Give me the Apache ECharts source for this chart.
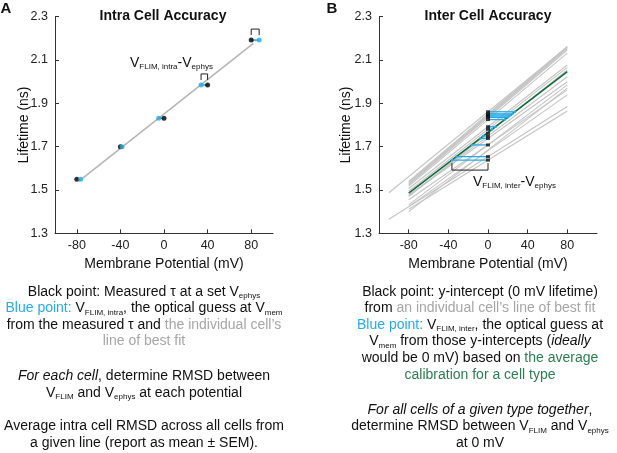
<!DOCTYPE html>
<html><head><meta charset="utf-8">
<script src="https://cdn.jsdelivr.net/npm/echarts@6/dist/echarts.min.js"></script>
<style>html,body{margin:0;padding:0;background:#fff}#c{width:617px;height:453px}</style>
</head><body><div id="c"></div>
<script>
// ---------- tick labels ----------
const xTicks = [-80, -40, 0, 40, 80];
const yTicks = [1.3, 1.5, 1.7, 1.9, 2.1, 2.3];

// ---------- Panel A: Intra cell accuracy ----------
const aVephys = [-80, -40, 0, 40, 80];
const aTau = [1.549, 1.700, 1.831, 1.985, 2.192];
const aVflim = [-76.5, -38.5, -4.9, 34.0, 87.3];
const aFitX = [-78, 82];
const aFitY = [1.541, 2.177];
const aBracketIdx = [3, 4];

// ---------- Panel B: Inter cell accuracy ----------
const bCellStartX = [-80, -80, -80, -80, -80, -100, -80, -80, -80, -80, -80, -80, -80, -80, -100, -80, -80];
const bCellStartY = [1.540, 1.535, 1.530, 1.524, 1.518, 1.487, 1.507, 1.494, 1.470, 1.475, 1.476, 1.431, 1.455, 1.423, 1.365, 1.411, 1.400];
const bCellEndX = [80, 80, 80, 80, 80, 80, 80, 80, 80, 80, 80, 80, 80, 80, 80, 80, 80];
const bCellEndY = [2.163, 2.158, 2.152, 2.146, 2.132, 2.160, 2.077, 2.066, 2.054, 2.023, 2.000, 1.985, 1.962, 1.939, 1.885, 1.865, 1.970];
const bCalX = [-80, 80];
const bCalY = [1.485, 2.046];
const bIntercepts = [1.861, 1.8515, 1.8465, 1.841, 1.835, 1.825, 1.792, 1.780, 1.762, 1.749, 1.738, 1.708, 1.654, 1.638];
const bVflim = [27.2, 24.5, 23.1, 21.5, 19.8, 17.0, 7.6, 4.1, -1.0, -4.7, -7.8, -16.4, -31.8, -36.4];

const F = '"Liberation Sans", Arial, Helvetica, sans-serif';
const BLUE = '#29abe2', GRAY_T = '#a6a6a6', GREEN_T = '#2d7d52', GREEN_L = '#0e6b3a';

function mkX(gi, min, max) {
  return {
    type: 'value', gridIndex: gi, min: min, max: max,
    axisLine: { show: true, onZero: false, lineStyle: { color: '#333', width: 1 } },
    axisTick: { show: true, inside: true, length: 4, customValues: xTicks, lineStyle: { color: '#333' } },
    axisLabel: { customValues: xTicks, fontSize: 12.5, color: '#222', margin: 6, fontFamily: F },
    splitLine: { show: false },
    name: 'Membrane Potential (mV)', nameLocation: 'middle', nameGap: 24, nameMoveOverlap: false,
    nameTextStyle: { fontSize: 14, color: '#111', fontFamily: F }
  };
}
function mkY(gi, gap) {
  return {
    type: 'value', gridIndex: gi, min: 1.3, max: 2.3,
    axisLine: { show: true, onZero: false, lineStyle: { color: '#333', width: 1 } },
    axisTick: { show: true, inside: true, length: 4, customValues: yTicks, lineStyle: { color: '#333' } },
    axisLabel: { customValues: yTicks, fontSize: 12.5, color: '#222', margin: 7, fontFamily: F,
      formatter: v => Number(v).toFixed(1) },
    splitLine: { show: false },
    name: 'Lifetime (ns)', nameLocation: 'middle', nameGap: gap, nameMoveOverlap: false,
    nameTextStyle: { fontSize: 14, color: '#111', fontFamily: F }
  };
}

const rich = {
  n: { fontSize: 14, fill: '#111', fontFamily: F, lineHeight: 16, verticalAlign: 'middle' },
  s: { fontSize: 8, fill: '#111', fontFamily: F, lineHeight: 9, verticalAlign: 'bottom' },
  b: { fontSize: 14, fill: BLUE, fontFamily: F, lineHeight: 16, verticalAlign: 'middle' },
  g: { fontSize: 14, fill: GRAY_T, fontFamily: F, lineHeight: 16, verticalAlign: 'middle' },
  gr: { fontSize: 14, fill: GREEN_T, fontFamily: F, lineHeight: 16, verticalAlign: 'middle' },
  i: { fontSize: 14, fill: '#111', fontFamily: F, fontStyle: 'italic', lineHeight: 16, verticalAlign: 'middle' }
};
function txt(x, y, t, align) {
  return { type: 'text', x: x, y: y, silent: true,
    style: { text: t, rich: rich, align: align || 'center', verticalAlign: 'middle' } };
}
function plain(x, y, t, size, weight) {
  return { type: 'text', x: x, y: y, silent: true,
    style: { text: t, fontSize: size, fontWeight: weight || 'normal', fontFamily: F, fill: '#111',
      align: 'center', verticalAlign: 'middle' } };
}
const labRich = {
  v: { fontSize: 14, fill: '#111', fontFamily: F, lineHeight: 16, verticalAlign: 'middle' },
  s: { fontSize: 8, fill: '#111', fontFamily: F, lineHeight: 9, verticalAlign: 'bottom' }
};

const graphics = [
  plain(6, 9, 'A', 15, 'bold'),
  plain(332, 9, 'B', 15, 'bold'),
  plain(163, 16, 'Intra Cell Accuracy', 14, 'bold'),
  plain(488, 16, 'Inter Cell Accuracy', 14, 'bold'),
  { type: 'text', x: 130, y: 63, silent: true,
    style: { text: '{v|V}{s|FLIM, intra}{v|-V}{s|ephys}', rich: labRich, align: 'left', verticalAlign: 'middle' } },
  { type: 'text', x: 473, y: 182, silent: true,
    style: { text: '{v|V}{s|FLIM, inter}{v|-V}{s|ephys}', rich: labRich, align: 'left', verticalAlign: 'middle' } },
  // Panel A text
  txt(144, 292, '{n|Black point: Measured τ at a set V}{s|ephys}'),
  txt(144, 308.5, '{b|Blue point: }{n|V}{s|FLIM, intra}{n|, the optical guess at V}{s|mem}'),
  txt(144, 325, '{n|from the measured τ and }{g|the individual cell\u2019s}'),
  txt(144, 341, '{g|line of best fit}'),
  txt(144, 376, '{i|For each cell}{n|, determine RMSD between}'),
  txt(144, 393, '{n|V}{s|FLIM}{n| and V}{s|ephys}{n| at each potential}'),
  txt(144, 426.5, '{n|Average intra cell RMSD across all cells from}'),
  txt(144, 443, '{n|a given line (report as mean \u00b1 SEM).}'),
  // Panel B text
  txt(480, 292, '{n|Black point: y-intercept (0 mV lifetime)}'),
  txt(480, 308.5, '{n|from }{g|an individual cell\u2019s line of best fit}'),
  txt(480, 325, '{b|Blue point: }{n|V}{s|FLIM, inter}{n|, the optical guess at}'),
  txt(480, 341.5, '{n|V}{s|mem}{n| from those y-intercepts (}{i|ideally}'),
  txt(480, 358, '{n|would be 0 mV) based on }{gr|the average}'),
  txt(480, 375, '{gr|calibration for a cell type}'),
  txt(480, 410, '{i|For all cells of a given type together}{n|,}'),
  txt(480, 426.5, '{n|determine RMSD between V}{s|FLIM}{n| and V}{s|ephys}'),
  txt(480, 443, '{n|at 0 mV}')
];

const series = [];
// A: fit line
series.push({ type: 'line', xAxisIndex: 0, yAxisIndex: 0, symbol: 'none', silent: true,
  data: aFitX.map((x, i) => [x, aFitY[i]]), lineStyle: { color: '#b5b5b5', width: 1.5 }, z: 1 });
// A: connectors (black -> blue)
series.push({ type: 'custom', xAxisIndex: 0, yAxisIndex: 0, silent: true, z: 2,
  data: aVephys.map((x, i) => [x, aTau[i], aVflim[i]]),
  renderItem: (p, api) => {
    const a = api.coord([api.value(0), api.value(1)]);
    const b = api.coord([api.value(2), api.value(1)]);
    return { type: 'line', shape: { x1: a[0], y1: a[1], x2: b[0], y2: b[1] }, style: { stroke: BLUE, lineWidth: 1.5 } };
  } });
series.push({ type: 'scatter', xAxisIndex: 0, yAxisIndex: 0, silent: true, z: 3, symbolSize: 5,
  data: aVephys.map((x, i) => [x, aTau[i]]), itemStyle: { color: '#000' } });
series.push({ type: 'scatter', xAxisIndex: 0, yAxisIndex: 0, silent: true, z: 4, symbolSize: 5,
  data: aVflim.map((x, i) => [x, aTau[i]]), itemStyle: { color: BLUE } });
// A: brackets
series.push({ type: 'custom', xAxisIndex: 0, yAxisIndex: 0, silent: true, z: 5,
  data: aBracketIdx.map(i => [aVephys[i], aTau[i], aVflim[i]]),
  renderItem: (p, api) => {
    const a = api.coord([api.value(0), api.value(1)]);
    const b = api.coord([api.value(2), api.value(1)]);
    const l = Math.min(a[0], b[0]), r = Math.max(a[0], b[0]);
    const top = a[1] - 11, bot = a[1] - 5;
    return { type: 'polyline', shape: { points: [[l, bot], [l, top], [r, top], [r, bot]] },
      style: { stroke: '#222', lineWidth: 1, fill: null } };
  } });

// B: individual cell lines
series.push({ type: 'custom', xAxisIndex: 1, yAxisIndex: 1, silent: true, z: 1,
  data: bCellStartX.map((x, i) => [x, bCellStartY[i], bCellEndX[i], bCellEndY[i]]),
  renderItem: (p, api) => {
    const a = api.coord([api.value(0), api.value(1)]);
    const b = api.coord([api.value(2), api.value(3)]);
    return { type: 'line', shape: { x1: a[0], y1: a[1], x2: b[0], y2: b[1] }, style: { stroke: '#c4c4c4', lineWidth: 1.1 } };
  } });
// B: calibration line
series.push({ type: 'line', xAxisIndex: 1, yAxisIndex: 1, symbol: 'none', silent: true, z: 2,
  data: bCalX.map((x, i) => [x, bCalY[i]]), lineStyle: { color: GREEN_L, width: 1.6 } });
// B: blue segments
series.push({ type: 'custom', xAxisIndex: 1, yAxisIndex: 1, silent: true, z: 3,
  data: bIntercepts.map((y, i) => [0, y, bVflim[i]]),
  renderItem: (p, api) => {
    const a = api.coord([api.value(0), api.value(1)]);
    const b = api.coord([api.value(2), api.value(1)]);
    return { type: 'group', children: [
      { type: 'line', shape: { x1: a[0], y1: a[1], x2: b[0], y2: b[1] }, style: { stroke: BLUE, lineWidth: 1.3 } },
      { type: 'circle', shape: { cx: b[0], cy: b[1], r: 1.3 }, style: { fill: BLUE } }
    ] };
  } });
// B: black intercept points
series.push({ type: 'scatter', xAxisIndex: 1, yAxisIndex: 1, silent: true, z: 4, symbol: 'rect', symbolSize: [4, 3],
  data: bIntercepts.map(y => [0, y]), itemStyle: { color: '#111' } });
// B: bracket
series.push({ type: 'custom', xAxisIndex: 1, yAxisIndex: 1, silent: true, z: 5,
  data: [[Math.min(...bVflim), Math.min(...bIntercepts)]],
  renderItem: (p, api) => {
    const a = api.coord([api.value(0), api.value(1)]);
    const b = api.coord([0, api.value(1)]);
    const t = a[1] + 3, bt = a[1] + 10;
    return { type: 'polyline', shape: { points: [[a[0], t], [a[0], bt], [b[0], bt], [b[0], t]] },
      style: { stroke: '#222', lineWidth: 1, fill: null } };
  } });

const chart = echarts.init(document.getElementById('c'), null, { renderer: 'canvas' });
chart.setOption({
  animation: false,
  backgroundColor: '#fff',
  textStyle: { fontFamily: F },
  grid: [
    { left: 55, top: 16.7, width: 218, height: 216.6 },
    { left: 379, top: 16.7, width: 218, height: 216.6 }
  ],
  xAxis: [mkX(0, -100, 100), mkX(1, -110, 110)],
  yAxis: [mkY(0, 24), mkY(1, 26)],
  series: series,
  graphic: graphics
});
</script></body></html>
